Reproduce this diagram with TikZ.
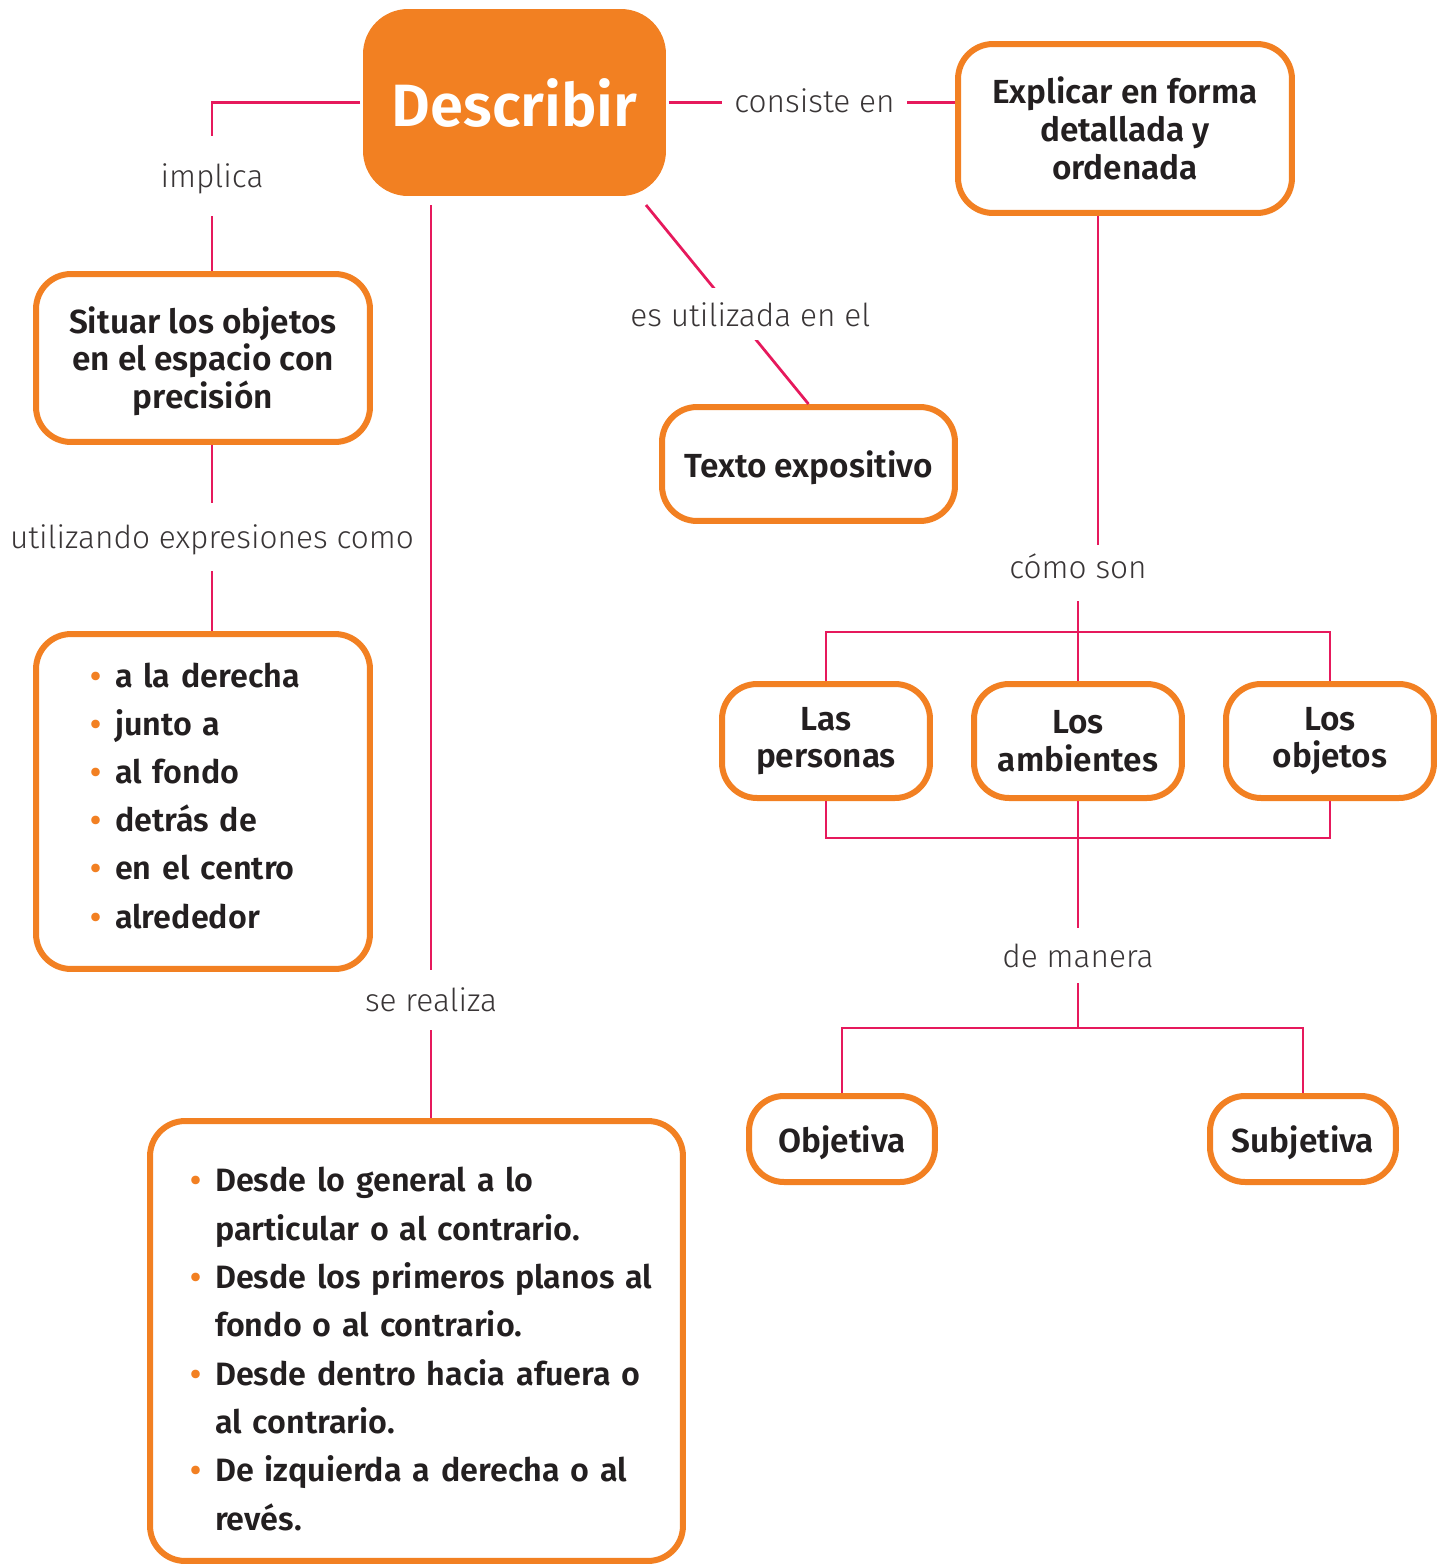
\documentclass[tikz,border=0pt]{standalone}
\usepackage{fontspec}
\setmainfont{Fira Sans}[BoldFont={Fira Sans SemiBold}]
\newfontfamily\lightfont{Fira Sans Light}

\definecolor{boxorange}{HTML}{F28022}
\definecolor{linkpink}{HTML}{E6195C}
\definecolor{inkdark}{HTML}{231F20}

\newcommand\itm[1]{\mbox{\makebox[0.5cm][l]{\textcolor{boxorange}{\textbullet}}#1}}
\newcommand\cnt[1]{\mbox{\makebox[0.5cm][l]{}#1}}

\tikzset{
    box/.style={draw=boxorange, line width=0.12cm, rounded corners=0.7cm, fill=white,
        align=center, text=inkdark, inner sep=0pt,
        font=\bfseries\fontsize{19}{21.5}\selectfont},
    link/.style={draw=linkpink, line width=0.055cm},
    lbl/.style={font=\lightfont\fontsize{18}{20}\selectfont, text=inkdark!90, inner sep=0pt},
}

\begin{document}
\begin{tikzpicture}[x=0.02cm, y=-0.02cm]
    \useasboundingbox (0,0) rectangle (1445,1566);

    % main boxes
    \node[box, fill=boxorange, draw=none, rounded corners=0.9cm, text=white,
        font=\bfseries\fontsize{34}{40}\selectfont,
        minimum width=6.06cm, minimum height=3.74cm] (desc) at (514.5,102.5) {Describir};
    \node[box, minimum width=6.68cm, minimum height=3.38cm] (explicar) at (1125,128.5)
        {Explicar en forma\\detallada y\\ordenada};
    \node[box, minimum width=6.68cm, minimum height=3.36cm] (situar) at (203,358)
        {\rule{0pt}{0.66cm}Situar los objetos\\en el espacio con\\precisión};
    \node[box, minimum width=5.86cm, minimum height=2.28cm, text depth=0pt] (texto) at (808.5,464)
        {Texto expositivo};

    \node[box, align=left, text width=4.52cm, inner xsep=1.08cm, minimum height=6.7cm,
        font=\bfseries\fontsize{18.4}{27.4}\selectfont] (lista) at (203,801.5)
        {\itm{a la derecha}\\ \itm{junto a}\\ \itm{al fondo}\\ \itm{detrás de}\\
         \itm{en el centro}\\ \itm{alrededor}\rule[-0.24cm]{0pt}{0.1cm}};

    \node[box, align=left, text width=9.06cm, inner xsep=0.8cm, minimum height=8.8cm,
        font=\bfseries\fontsize{18.4}{27.5}\selectfont] (pasos) at (416.5,1341)
        {\itm{\rule{0pt}{0.81cm}Desde lo general a lo}\\ \cnt{particular o al contrario.}\\
         \itm{Desde los primeros planos al}\\ \cnt{fondo o al contrario.}\\
         \itm{Desde dentro hacia afuera o}\\ \cnt{al contrario.}\\
         \itm{De izquierda a derecha o al}\\ \cnt{revés.}};

    \foreach \name/\x/\txt in {personas/826/{Las\\personas}, ambientes/1078/{Los\\ambientes}, objetos/1330/{Los\\objetos}}
        \node[box, minimum width=4.16cm, minimum height=2.28cm] (\name) at (\x,741) {\txt};

    \node[box, minimum width=3.72cm, minimum height=1.72cm, text depth=0pt] (objetiva) at (842,1139) {Objetiva};
    \node[box, minimum width=3.72cm, minimum height=1.72cm, text depth=0pt] (subjetiva) at (1303,1139) {Subjetiva};

    % labels
    \node[lbl, minimum height=1.6cm, text depth=0pt] (implica) at (212,176) {implica};
    \node[lbl, minimum width=3.7cm] (consiste) at (814.5,101) {consiste en};
    \node[lbl, minimum height=1.36cm, text depth=0pt] (utilizando) at (212,537) {utilizando expresiones como};
    \node[lbl, minimum height=1.2cm] (realiza) at (431,1000) {se realiza};
    \node[lbl, minimum height=1.4cm] (comoson) at (1078,566) {cómo son};
    \node[lbl, minimum height=1.1cm] (demanera) at (1078,955.5) {de manera};

    \coordinate (d3) at (646,205);
    \coordinate (d4) at (431,205);
    \coordinate (e1) at (1098,545);
    \coordinate (j1) at (1078,632);
    \coordinate (j2) at (1078,838);
    \coordinate (j3) at (1078,1028);

    % connectors
    \draw[link] (desc.west) -| (implica.north);
    \draw[link] (implica.south) -- (implica.south |- situar.north);
    \draw[link] (desc.east) -- (consiste.west |- desc.east);
    \draw[link] (consiste.east |- desc.east) -- (explicar.west |- desc.east);
    \draw[link] (d3) -- node[lbl, fill=white, pos=0.55, xshift=0.3cm, minimum height=1.04cm] {es utilizada en el} (texto.north);
    \draw[link] (d4) -- (realiza.north);
    \draw[link] (realiza.south) -- (realiza.south |- pasos.north);
    \draw[link] (situar.south -| utilizando) -- (utilizando.north);
    \draw[link] (utilizando.south) -- (utilizando.south |- lista.north);
    \draw[link] (explicar.south -| e1) -- (e1);
    \draw[link] (comoson.south) -- (ambientes.north);
    \draw[link] (personas.north) |- (j1) -| (objetos.north);
    \draw[link] (personas.south) |- (j2) -| (objetos.south);
    \draw[link] (ambientes.south) -- (demanera.north);
    \draw[link] (demanera.south) -- (j3);
    \draw[link] (objetiva.north) |- (j3) -| (subjetiva.north);
\end{tikzpicture}
\end{document}
